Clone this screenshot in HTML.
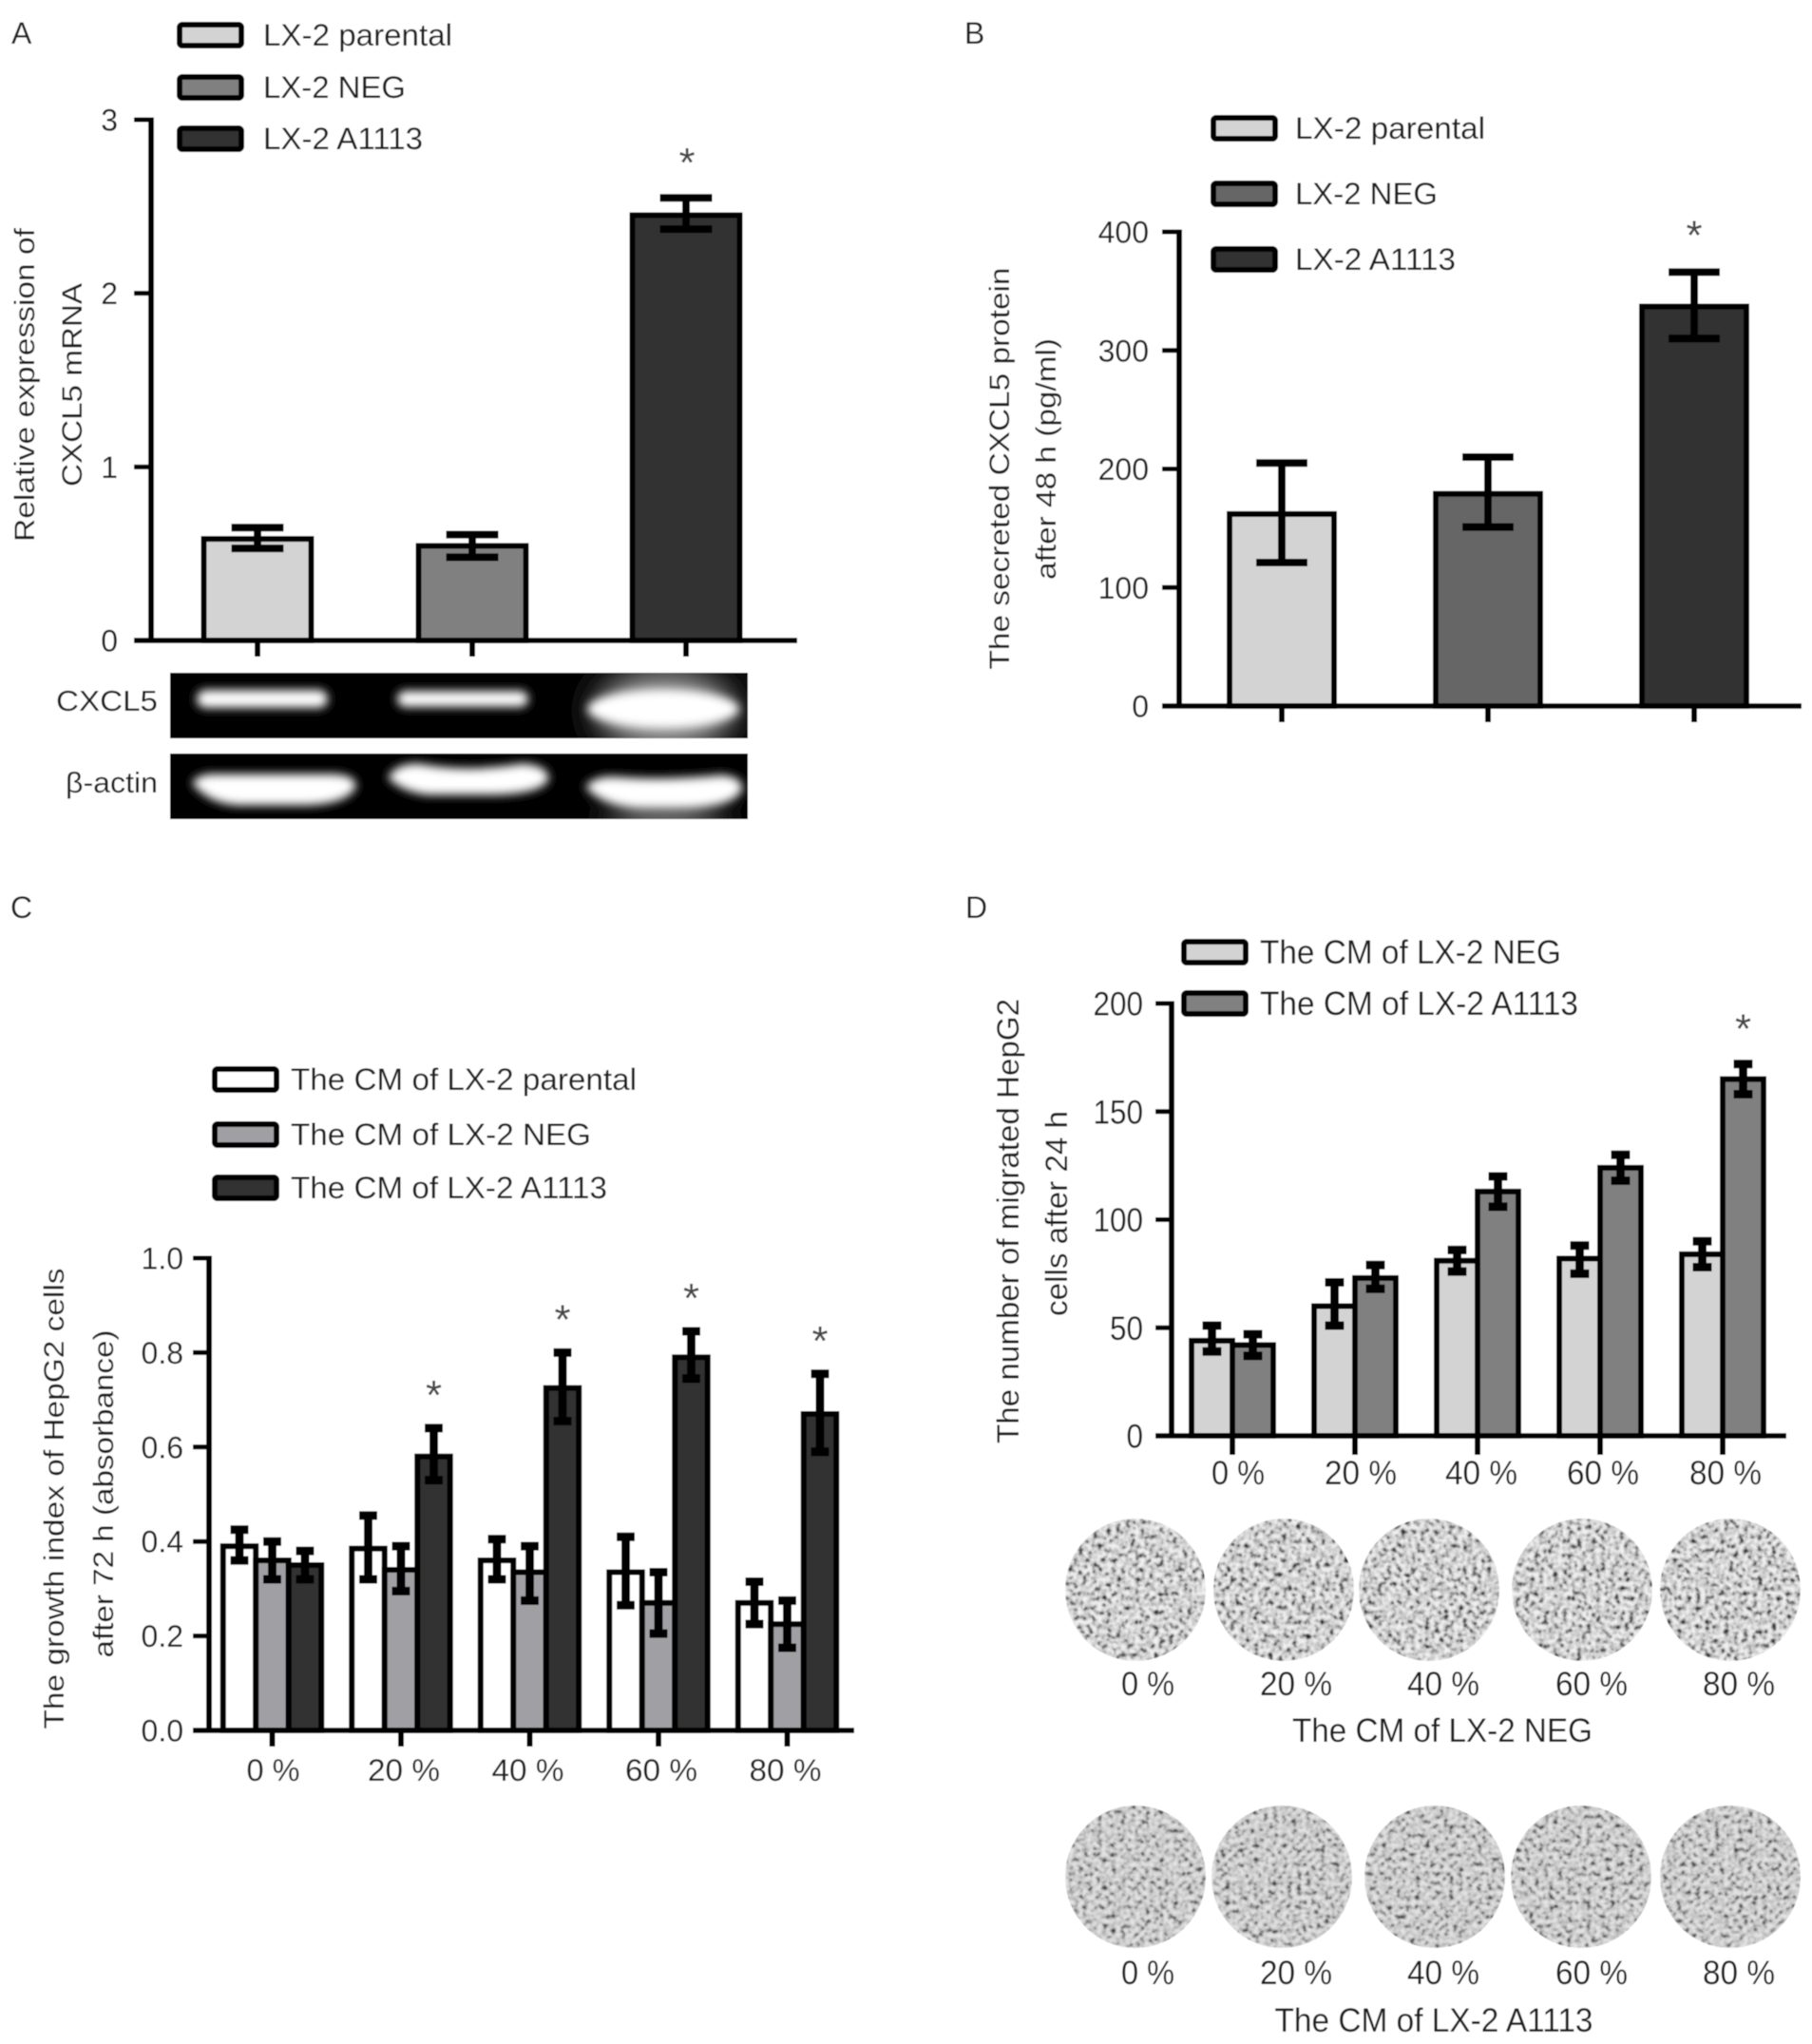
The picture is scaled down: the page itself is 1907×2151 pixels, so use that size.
<!DOCTYPE html>
<html lang="en">
<head>
<meta charset="utf-8">
<title>CXCL5 expression figure</title>
<style>
html,body{margin:0;padding:0;background:#fff;}
svg{display:block;}
text{font-family:"Liberation Sans",sans-serif;fill:#1f1f1f;}
</style>
</head>
<body>
<svg id="fig" xmlns="http://www.w3.org/2000/svg" width="1907" height="2151" viewBox="0 0 1907 2151">
  <defs>
    <filter id="blur-soft" x="-30%" y="-100%" width="160%" height="300%"><feGaussianBlur stdDeviation="5"/></filter>
    <filter id="blur-haze" x="-40%" y="-60%" width="180%" height="220%"><feGaussianBlur stdDeviation="18"/></filter>
    <filter id="all-soft" x="0" y="0" width="100%" height="100%"><feGaussianBlur stdDeviation="0.6"/></filter>
    <clipPath id="gel-top-clip"><rect x="179" y="708" width="608" height="69"/></clipPath>
    <clipPath id="gel-bottom-clip"><rect x="179" y="793" width="608" height="69"/></clipPath>
    <filter id="well-1" x="0" y="0" width="100%" height="100%" color-interpolation-filters="sRGB"><feTurbulence type="fractalNoise" baseFrequency="0.2" numOctaves="2" seed="3"/><feColorMatrix type="matrix" values="1.5 0 0 0 -0.25  1.5 0 0 0 -0.25  1.5 0 0 0 -0.25  0 0 0 0 1"/><feComponentTransfer><feFuncR type="table" tableValues="0.95 0.95 0.94 0.92 0.88 0.82 0.76 0.64 0.4 0.18 0.1"/><feFuncG type="table" tableValues="0.95 0.95 0.94 0.92 0.88 0.82 0.76 0.64 0.4 0.18 0.1"/><feFuncB type="table" tableValues="0.95 0.95 0.94 0.92 0.88 0.82 0.76 0.64 0.4 0.18 0.1"/></feComponentTransfer><feGaussianBlur stdDeviation="0.8"/><feComposite in2="SourceAlpha" operator="in"/></filter>
    <filter id="well-2" x="0" y="0" width="100%" height="100%" color-interpolation-filters="sRGB"><feTurbulence type="fractalNoise" baseFrequency="0.2" numOctaves="2" seed="11"/><feColorMatrix type="matrix" values="1.5 0 0 0 -0.25  1.5 0 0 0 -0.25  1.5 0 0 0 -0.25  0 0 0 0 1"/><feComponentTransfer><feFuncR type="table" tableValues="0.9 0.9 0.89 0.87 0.84 0.8 0.75 0.67 0.48 0.28 0.2"/><feFuncG type="table" tableValues="0.9 0.9 0.89 0.87 0.84 0.8 0.75 0.67 0.48 0.28 0.2"/><feFuncB type="table" tableValues="0.9 0.9 0.89 0.87 0.84 0.8 0.75 0.67 0.48 0.28 0.2"/></feComponentTransfer><feGaussianBlur stdDeviation="0.9"/><feComposite in2="SourceAlpha" operator="in"/></filter>
  </defs>
  <g id="root" filter="url(#all-soft)">
    <rect x="0" y="0" width="1907" height="2151" fill="#fff"/>
    <g id="gels">
      <g clip-path="url(#gel-top-clip)">
        <rect x="179" y="708" width="608" height="69" fill="#000"/>
        <ellipse cx="700" cy="748" rx="72" ry="42" fill="#a8a8a8" filter="url(#blur-haze)"/>
        <rect x="207" y="726" width="138" height="19" rx="9.5" fill="#fff" filter="url(#blur-soft)"/>
        <rect x="418" y="727" width="138" height="17" rx="8.5" fill="#fff" filter="url(#blur-soft)"/>
        <ellipse cx="698" cy="746" rx="80" ry="20" fill="#fff" filter="url(#blur-soft)"/>
      </g>
      <g clip-path="url(#gel-bottom-clip)">
        <rect x="179" y="793" width="608" height="69" fill="#000"/>
        <ellipse cx="700" cy="864" rx="62" ry="18" fill="#909090" filter="url(#blur-haze)"/>
        <path d="M204 824 Q210 815 230 816 L350 816 Q374 817 373 828 Q364 845 320 846 L250 846 Q220 844 204 824Z" fill="#fff" filter="url(#blur-soft)" stroke="#fff" stroke-width="3"/>
        <path d="M410 818 Q418 805 440 805 Q490 815 550 805 Q576 807 576 820 Q568 834 520 835 L450 835 Q424 832 410 818Z" fill="#fff" filter="url(#blur-soft)" stroke="#fff" stroke-width="3"/>
        <path d="M618 828 Q628 817 650 819 Q700 823 760 817 Q780 819 780 830 Q772 848 720 849 L670 849 Q634 846 618 828Z" fill="#fff" filter="url(#blur-soft)" stroke="#fff" stroke-width="3"/>
      </g>
    </g>
  </g>
</svg>
<script>
// Panel A data
const aGroups = ["LX-2 parental", "LX-2 NEG", "LX-2 A1113"];
const aValues = [0.585, 0.545, 2.45];
const aUpper = [0.65, 0.61, 2.55];
const aLower = [0.53, 0.48, 2.37];
const aTicks = [0, 1, 2, 3];
const aStars = [false, false, true];
// Panel B data
const bGroups = ["LX-2 parental", "LX-2 NEG", "LX-2 A1113"];
const bValues = [162, 179, 337];
const bUpper = [205, 210, 366];
const bLower = [121, 151, 310];
const bTicks = [0, 100, 200, 300, 400];
const bStars = [false, false, true];
// Panel C data
const cCategories = ["0 %", "20 %", "40 %", "60 %", "80 %"];
const cSeriesNames = ["The CM of LX-2 parental", "The CM of LX-2 NEG", "The CM of LX-2 A1113"];
const cParental = [0.39, 0.385, 0.36, 0.335, 0.27];
const cParentalUpper = [0.425, 0.455, 0.405, 0.41, 0.315];
const cParentalLower = [0.36, 0.32, 0.32, 0.265, 0.225];
const cNeg = [0.36, 0.34, 0.335, 0.27, 0.225];
const cNegUpper = [0.40, 0.39, 0.39, 0.335, 0.275];
const cNegLower = [0.32, 0.295, 0.275, 0.205, 0.175];
const cA1113 = [0.35, 0.58, 0.725, 0.79, 0.67];
const cA1113Upper = [0.38, 0.64, 0.80, 0.845, 0.755];
const cA1113Lower = [0.32, 0.53, 0.655, 0.745, 0.59];
const cTicks = ["0.0", "0.2", "0.4", "0.6", "0.8", "1.0"];
const cStars = [false, true, true, true, true];
// Panel D data
const dCategories = ["0 %", "20 %", "40 %", "60 %", "80 %"];
const dSeriesNames = ["The CM of LX-2 NEG", "The CM of LX-2 A1113"];
const dNeg = [44, 60, 81, 82, 84];
const dNegUpper = [51, 71, 86, 88, 90];
const dNegLower = [39, 51, 76, 75, 78];
const dA1113 = [42, 73, 113, 124, 165];
const dA1113Upper = [47, 79, 120, 130, 172];
const dA1113Lower = [37, 68, 106, 118, 158];
const dTicks = [0, 50, 100, 150, 200];
const dStars = [false, false, false, false, true];

const NS = "http://www.w3.org/2000/svg";
const root = document.getElementById("root");

function make(tag, attrs, name) {
  const el = document.createElementNS(NS, tag);
  for (const k in attrs) el.setAttribute(k, attrs[k]);
  
  
  root.appendChild(el);
  return el;
}
function label(str, x, y, size, anchor, name, width, rotate) {
  const attrs = { x: x, y: y, "font-size": size, "text-anchor": anchor || "start" };
  if (width) { attrs.textLength = width; attrs.lengthAdjust = "spacingAndGlyphs"; }
  if (rotate) attrs.transform = "rotate(-90 " + x + " " + y + ")";
  const el = make("text", attrs, name);
  el.textContent = str;
  return el;
}
function line(x1, y1, x2, y2, w, name) {
  return make("line", { x1: x1, y1: y1, x2: x2, y2: y2, stroke: "#000", "stroke-width": w }, name);
}
function linearY(min, max, y0, yTop) {
  return function (v) { return y0 - (v - min) / (max - min) * (y0 - yTop); };
}
function bar(cx, w, value, upper, lower, y, y0, fill, capW, errW, sw, name) {
  const top = y(value);
  make("rect", { x: cx - w / 2, y: top, width: w, height: y0 - top, fill: fill, stroke: "#000", "stroke-width": sw }, name + "-bar");
  line(cx, y(upper), cx, y(lower), errW, name + "-error-stem");
  line(cx - capW / 2, y(upper), cx + capW / 2, y(upper), errW, name + "-error-cap-upper");
  line(cx - capW / 2, y(lower), cx + capW / 2, y(lower), errW, name + "-error-cap-lower");
}
function star(cx, y, name) {
  const el = label("*", cx, y, 44, "middle", name);
  el.style.fill = "#444";
}
function yAxis(ax, y0, yTop, ticks, y, tickLeft, labelX, size, name, labelW) {
  line(ax, yTop - 2.5, ax, y0, 6, name + "-y-axis");
  ticks.forEach(function (t) {
    const v = parseFloat(t);
    line(tickLeft, y(v), ax, y(v), 5, name + "-y-tick-" + t);
    label(String(t), labelX, y(v) + size * 0.36, size, "end", name + "-y-tick-label-" + t, labelW ? labelW * String(t).length : null);
  });
}
function swatch(x, y, w, h, fill, name) {
  make("rect", { x: x, y: y - h / 2, width: w, height: h, rx: 3, fill: fill, stroke: "#000", "stroke-width": 6 }, name);
}

/* ---------- Panel A ---------- */
(function () {
  const y0 = 674, yTop = 126, ax = 159;
  const y = linearY(0, 3, y0, yTop);
  const fills = ["#d3d3d3", "#808080", "#333333"];
  const centers = [271, 497, 722];
  const legendY = [37, 92, 146];
  const legendW = [199, 150, 168];
  aGroups.forEach(function (g, i) {
    bar(centers[i], 113, aValues[i], aUpper[i], aLower[i], y, y0, fills[i], 55, 8, 6, "a-" + g.toLowerCase().replace(/ /g, "-"));
    line(centers[i], y0, centers[i], y0 + 17, 6, "a-x-tick-" + i);
    if (aStars[i]) star(centers[i] + 1, y(aUpper[i]) - 22, "a-significance-star");
    swatch(189, legendY[i], 65, 22, fills[i], "a-legend-swatch-" + i);
    label(g, 277, legendY[i] + 11, 32, "start", "a-legend-label-" + i, legendW[i]);
  });
  yAxis(ax, y0, yTop, aTicks, y, 141, 124, 32, "a");
  line(141, y0, 839, y0, 5.5, "a-x-axis");
  label("Relative expression of", 36, 405, 30, "middle", "a-y-axis-title-line-1", 330, true);
  label("CXCL5 mRNA", 86, 405, 30, "middle", "a-y-axis-title-line-2", 214, true);
  label("CXCL5", 166, 748, 31, "end", "cxcl5-gel-label", 107);
  label("\u03B2-actin", 166, 834, 31, "end", "beta-actin-gel-label", 97);
  label("A", 12, 46, 32, "start", "panel-label-a");
})();

/* ---------- Panel B ---------- */
(function () {
  const y0 = 743, yTop = 244, ax = 1241;
  const y = linearY(0, 400, y0, yTop);
  const fills = ["#d3d3d3", "#666666", "#333333"];
  const centers = [1349, 1566, 1783];
  const legendY = [135, 204, 273];
  const legendW = [200, 150, 169];
  bGroups.forEach(function (g, i) {
    bar(centers[i], 110, bValues[i], bUpper[i], bLower[i], y, y0, fills[i], 54, 8, 6, "b-" + g.toLowerCase().replace(/ /g, "-"));
    line(centers[i], y0, centers[i], y0 + 17, 6, "b-x-tick-" + i);
    if (bStars[i]) star(centers[i], y(bUpper[i]) - 24, "b-significance-star");
    swatch(1277, legendY[i], 65, 22, fills[i], "b-legend-swatch-" + i);
    label(g, 1363, legendY[i] + 11, 32, "start", "b-legend-label-" + i, legendW[i]);
  });
  yAxis(ax, y0, yTop, bTicks, y, 1223, 1209, 32, "b");
  line(1223, y0, 1896, y0, 5.5, "b-x-axis");
  label("The secreted CXCL5 protein", 1062, 493, 30, "middle", "b-y-axis-title-line-1", 423, true);
  label("after 48 h (pg/ml)", 1111, 483, 30, "middle", "b-y-axis-title-line-2", 254, true);
  label("B", 1015, 46, 32, "start", "panel-label-b");
})();

/* ---------- Panel C ---------- */
(function () {
  const y0 = 1821, yTop = 1324, ax = 220;
  const y = linearY(0, 1, y0, yTop);
  const fills = ["#ffffff", "#a0a0a4", "#333333"];
  const vals = [cParental, cNeg, cA1113];
  const ups = [cParentalUpper, cNegUpper, cA1113Upper];
  const lows = [cParentalLower, cNegLower, cA1113Lower];
  const bw = 34.5, first = 286.5, step = 135.5;
  const legendY = [1136, 1194, 1250];
  const legendW = [364, 316, 333];
  const labelShift = [1, 3, -2, 3, -2];
  cCategories.forEach(function (cat, g) {
    const cx = first + step * g;
    vals.forEach(function (series, s) {
      bar(cx + (s - 1) * bw, bw, series[g], ups[s][g], lows[s][g], y, y0, fills[s], 19, 9, 6, "c-" + cat.replace(" %", "pct") + "-series-" + s);
    });
    line(cx, y0, cx, y0 + 17, 6, "c-x-tick-" + g);
    label(cat, cx + labelShift[g], y0 + 53, 32, "middle", "c-x-tick-label-" + g, cat.length === 3 ? 56 : 76);
    if (cStars[g]) star(cx + bw, y(ups[2][g]) - 20, "c-significance-star-" + g);
  });
  cSeriesNames.forEach(function (n, i) {
    swatch(226, legendY[i], 65, 22, fills[i], "c-legend-swatch-" + i);
    label(n, 306, legendY[i] + 11, 32, "start", "c-legend-label-" + i, legendW[i]);
  });
  yAxis(ax, y0, yTop, cTicks, y, 203, 193, 32, "c");
  line(203, y0, 899, y0, 5.5, "c-x-axis");
  label("The growth index of HepG2 cells", 67, 1577, 30, "middle", "c-y-axis-title-line-1", 485, true);
  label("after 72 h (absorbance)", 119, 1572, 30, "middle", "c-y-axis-title-line-2", 345, true);
  label("C", 11, 966, 32, "start", "panel-label-c");
})();

/* ---------- Panel D ---------- */
(function () {
  const y0 = 1511, yTop = 1056, ax = 1233;
  const y = linearY(0, 200, y0, yTop);
  const fills = ["#d3d3d3", "#808080"];
  const vals = [dNeg, dA1113];
  const ups = [dNegUpper, dA1113Upper];
  const lows = [dNegLower, dA1113Lower];
  const bw = 43, first = 1297, step = 129;
  const legendY = [1002, 1056];
  const legendW = [317, 335];
  const labelShift = [6, 6, 4, 3, 3];
  dCategories.forEach(function (cat, g) {
    const cx = first + step * g;
    vals.forEach(function (series, s) {
      bar(cx + (s - 0.5) * bw, bw, series[g], ups[s][g], lows[s][g], y, y0, fills[s], 20, 9, 6, "d-" + cat.replace(" %", "pct") + "-series-" + s);
    });
    line(cx, y0, cx, y0 + 20, 6, "d-x-tick-" + g);
    label(cat, cx + labelShift[g], y0 + 51, 35, "middle", "d-x-tick-label-" + g, cat.length === 3 ? 56 : 76);
    if (dStars[g]) star(cx + bw / 2, y(ups[1][g]) - 22, "d-significance-star-" + g);
  });
  dSeriesNames.forEach(function (n, i) {
    swatch(1246, legendY[i], 65, 22, fills[i], "d-legend-swatch-" + i);
    label(n, 1326, legendY[i] + 12, 35, "start", "d-legend-label-" + i, legendW[i]);
  });
  yAxis(ax, y0, yTop, dTicks, y, 1216, 1203, 35, "d", 17.5);
  line(1216, y0, 1880, y0, 5.5, "d-x-axis");
  label("The number of migrated HepG2", 1072, 1285, 32, "middle", "d-y-axis-title-line-1", 468, true);
  label("cells after 24 h", 1123, 1277, 32, "middle", "d-y-axis-title-line-2", 216, true);
  label("D", 1016, 966, 32, "start", "panel-label-d");

  // migration well micrographs
  const wellX = [[1195, 1351, 1504, 1665, 1821], [1195, 1349, 1510, 1664, 1821]];
  const wellY = [1673, 1975];
  const wellLabelY = [1784, 2088];
  const wellLabelX = [1208, 1364, 1519, 1675, 1830];
  const rowTitles = ["The CM of LX-2 NEG", "The CM of LX-2 A1113"];
  const rowTitleX = [1518, 1509];
  const rowTitleY = [1833, 2138];
  const rowTitleW = [316, 335];
  wellX.forEach(function (xs, r) {
    xs.forEach(function (x, i) {
      make("ellipse", { cx: x, cy: wellY[r], rx: 74, ry: 75, fill: "#c4c4c4", filter: "url(#well-" + (r + 1) + ")" }, "well-" + (r === 0 ? "neg" : "a1113") + "-" + dCategories[i].replace(" %", "pct"));
      label(dCategories[i], wellLabelX[i], wellLabelY[r], 35, "middle", "well-label-" + r + "-" + i, dCategories[i].length === 3 ? 56 : 76);
    });
    label(rowTitles[r], rowTitleX[r], rowTitleY[r], 35, "middle", "well-row-title-" + r, rowTitleW[r]);
  });
})();
</script>
</body>
</html>
